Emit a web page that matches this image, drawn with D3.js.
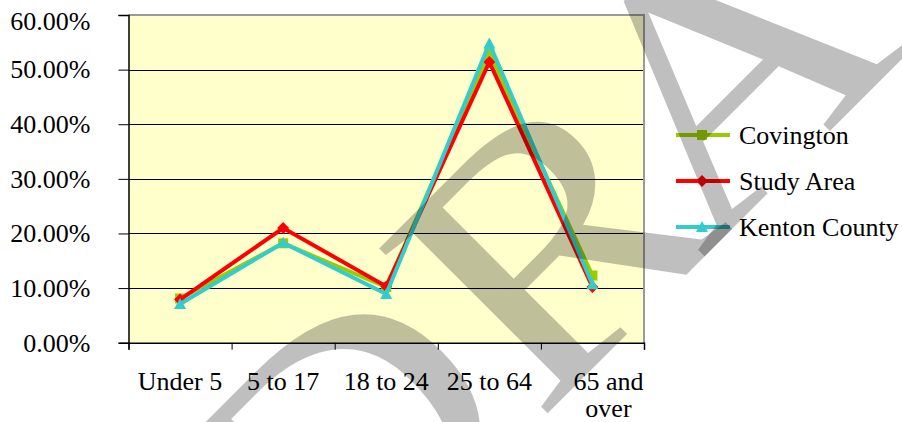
<!DOCTYPE html>
<html>
<head>
<meta charset="utf-8">
<script src="https://cdn.jsdelivr.net/npm/d3@7"></script>
<style>
  html, body { margin: 0; padding: 0; background: #ffffff; }
  svg { display: block; }
  svg text { font-family: "Liberation Serif", "Times New Roman", "DejaVu Serif", serif; }
</style>
</head>
<body>
<svg id="chart" width="902" height="422"></svg>
<script>
// Age groups and the share of population in each, by geography
const categories = [["Under 5"], ["5 to 17"], ["18 to 24"], ["25 to 64"], ["65 and", "over"]];
const covington = [0.081, 0.182, 0.102, 0.530, 0.123];
const studyArea = [0.079, 0.210, 0.103, 0.514, 0.102];
const kentonCounty = [0.071, 0.183, 0.089, 0.548, 0.107];
const yTicks = [0, 0.1, 0.2, 0.3, 0.4, 0.5, 0.6];
const seriesNames = ["Covington", "Study Area", "Kenton County"];
const watermarkLetters = ["D", "R", "A", "F", "T"];

const series = [
  { name: seriesNames[0], values: covington, color: "#99cc00", marker: "square" },
  { name: seriesNames[1], values: studyArea, color: "#ff0000", marker: "diamond" },
  { name: seriesNames[2], values: kentonCounty, color: "#33cccc", marker: "triangle" }
];

const svg = d3.select("#chart");
const plot = { left: 128.5, right: 644, top: 15, bottom: 342.7 };

const x = d3.scaleBand()
  .domain(d3.range(categories.length))
  .range([plot.left, plot.right]);
const xEdges = d3.scaleLinear().domain([0, categories.length]).range([plot.left, plot.right]);
const y = d3.scaleLinear().domain([0, 0.6]).range([plot.bottom, plot.top]);
const cx = i => x(i) + x.bandwidth() / 2;

// marker shapes, centred on their bounding box
function markerPath(type, s) {
  const h = s / 2;
  if (type === "square") return `M${-h},${-h}H${h}V${h}H${-h}Z`;
  if (type === "diamond") return `M0,${-h - 1}L${h + 1},0L0,${h + 1}L${-h - 1},0Z`;
  return `M0,${-h - 1}L${h + 1},${h}L${-h - 1},${h}Z`;
}

// plot area
svg.append("rect")
  .attr("x", plot.left).attr("y", plot.top)
  .attr("width", plot.right - plot.left).attr("height", plot.bottom - plot.top)
  .attr("fill", "#ffffcc");

// horizontal gridlines
svg.append("g").selectAll("line")
  .data(yTicks.filter(v => v > 0 && v < 0.6))
  .join("line")
  .attr("x1", plot.left).attr("x2", plot.right)
  .attr("y1", d => Math.round(y(d)) + 0.5).attr("y2", d => Math.round(y(d)) + 0.5)
  .attr("stroke", "#000").attr("stroke-width", 1);

// top and right border
svg.append("path")
  .attr("d", `M${plot.left},${plot.top}H${plot.right}V${plot.bottom}`)
  .attr("fill", "none").attr("stroke", "#9a9a9a").attr("stroke-width", 2);

// series lines and markers
const line = d3.line().x((d, i) => cx(i)).y(d => y(d));
series.forEach(s => {
  const g = svg.append("g");
  g.append("path")
    .attr("d", line(s.values))
    .attr("fill", "none").attr("stroke", s.color).attr("stroke-width", 4);
  g.selectAll("path.m")
    .data(s.values)
    .join("path").attr("class", "m")
    .attr("transform", (d, i) => `translate(${cx(i)},${y(d)})`)
    .attr("d", markerPath(s.marker, 10))
    .attr("fill", s.color);
});

// y axis
const yAxis = svg.append("g")
  .attr("transform", `translate(${plot.left},0)`)
  .call(d3.axisLeft(y).tickValues(yTicks).tickSize(10).tickPadding(28)
    .tickFormat(d3.format(".2%")));
yAxis.attr("font-family", null);
yAxis.select(".domain").attr("stroke", "#000").attr("stroke-width", 1.5);
yAxis.selectAll(".tick line").attr("stroke", "#000");
yAxis.selectAll(".tick text")
  .attr("font-size", 26).attr("fill", "#000")
  .attr("dy", d => d === 0.6 ? "0.55em" : "0.32em");

// x axis (ticks between categories)
const xAxis = svg.append("g")
  .attr("transform", `translate(0,${plot.bottom})`)
  .call(d3.axisBottom(xEdges).tickValues(d3.range(categories.length + 1)).tickSize(7).tickFormat(""));
xAxis.select(".domain").attr("stroke", "#000").attr("stroke-width", 1.5);
xAxis.selectAll(".tick line").attr("stroke", "#000");

// category labels
const wrapShift = 16;
svg.append("g").selectAll("text")
  .data(categories)
  .join("text")
  .attr("x", (d, i) => cx(i) + (d.length > 1 ? wrapShift : 0))
  .attr("y", 390)
  .attr("text-anchor", "middle")
  .attr("font-size", 26)
  .attr("fill", "#000")
  .selectAll("tspan")
  .data(d => d)
  .join("tspan")
  .attr("x", function () { return d3.select(this.parentNode).attr("x"); })
  .attr("dy", (d, i) => i === 0 ? 0 : 27)
  .text(d => d);

// legend
const legend = svg.append("g").attr("transform", "translate(676,135)");
const items = legend.selectAll("g")
  .data(series)
  .join("g")
  .attr("transform", (d, i) => `translate(0,${i * 46})`);
items.append("line")
  .attr("x1", 0).attr("x2", 54)
  .attr("stroke", d => d.color).attr("stroke-width", 4);
items.append("path")
  .attr("transform", "translate(26,0)")
  .attr("d", d => markerPath(d.marker, 10))
  .attr("fill", d => d.color);
items.append("text")
  .attr("x", 63).attr("dy", "0.33em")
  .attr("font-size", 26).attr("fill", "#000")
  .text(d => d.name);

// diagonal watermark across the page, stretched along its baseline,
// with the R–A pair kerned tighter
svg.append("text")
  .attr("transform", "translate(326,635) rotate(-45) scale(1.15,1)")
  .attr("font-size", 360)
  .attr("fill", "#000")
  .attr("fill-opacity", 0.25)
  .selectAll("tspan")
  .data(watermarkLetters)
  .join("tspan")
  .attr("dx", d => d === "A" ? -38 : 0)
  .text(d => d);
</script>
</body>
</html>
